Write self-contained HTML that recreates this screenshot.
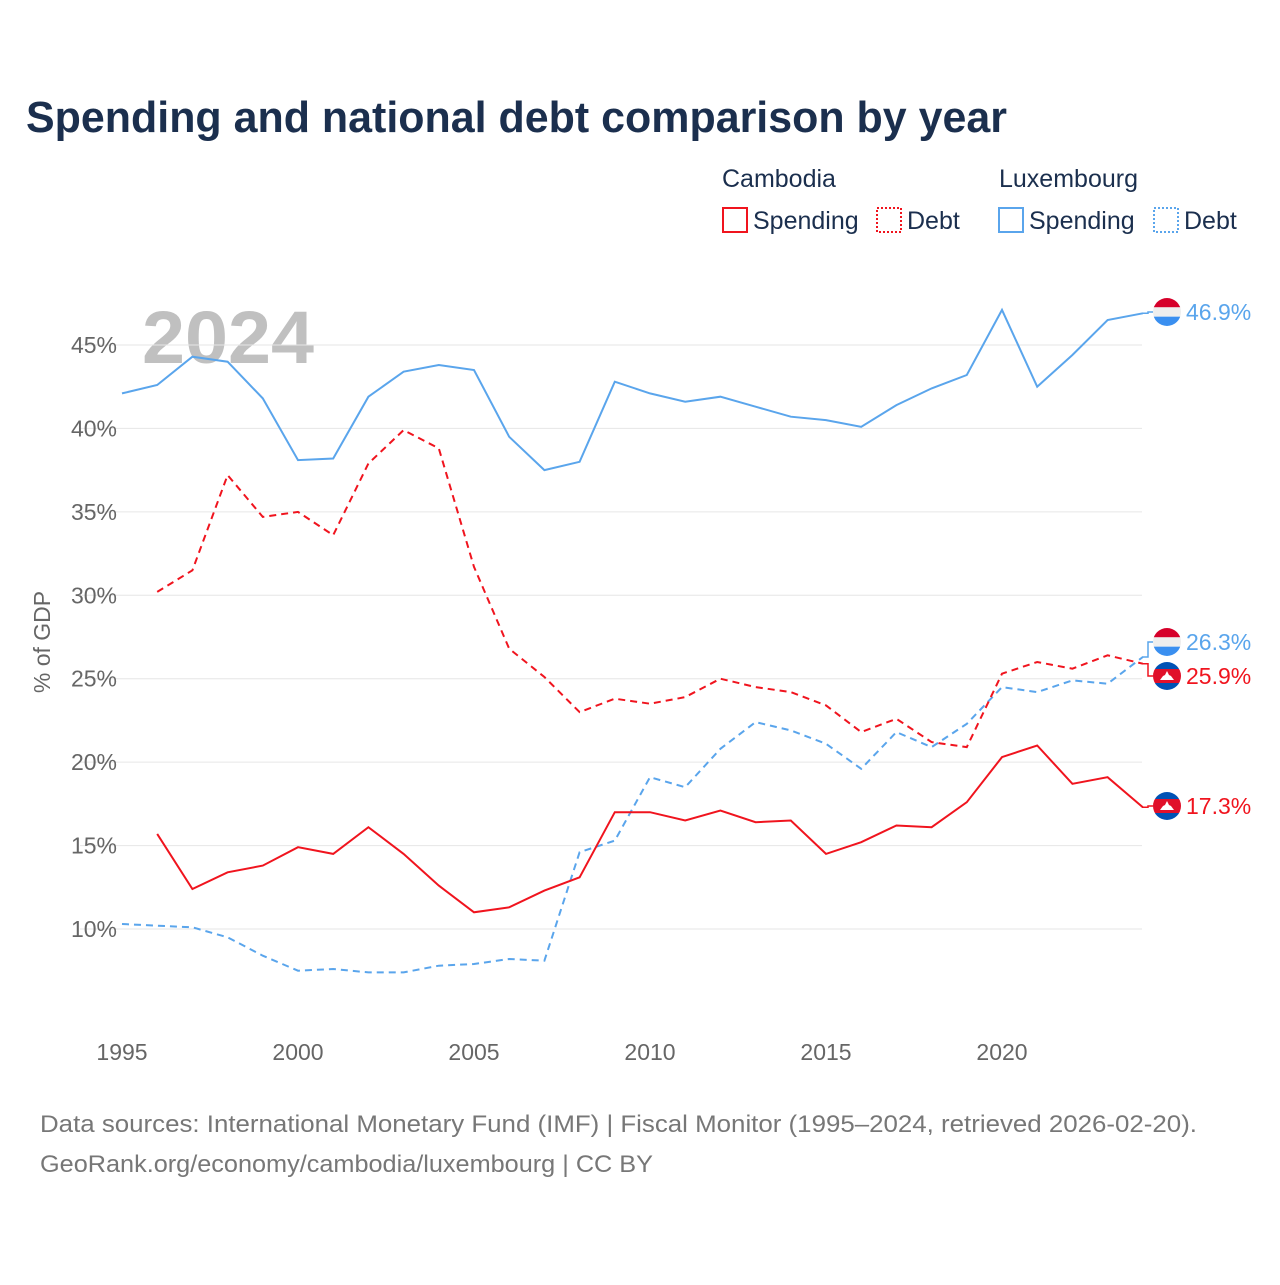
<!DOCTYPE html>
<html><head><meta charset="utf-8"><style>
html,body{margin:0;padding:0;background:#fff;}
body{width:1280px;height:1280px;overflow:hidden;font-family:"Liberation Sans",sans-serif;}
</style></head><body>
<svg id="chart" width="1280" height="1280" xmlns="http://www.w3.org/2000/svg" font-family="Liberation Sans, sans-serif">
<text x="26" y="132" font-size="44" font-weight="bold" fill="#1b2f4e" textLength="981" lengthAdjust="spacingAndGlyphs">Spending and national debt comparison by year</text>
<g font-size="25" fill="#1b2f4e">
<text x="722" y="187">Cambodia</text>
<text x="999" y="187">Luxembourg</text>
<g><rect x="723" y="208" width="24" height="24" fill="none" stroke="#f0141e" stroke-width="2"/><text x="753" y="229">Spending</text></g>
<g><rect x="877" y="208" width="24" height="24" fill="none" stroke="#f0141e" stroke-width="2" stroke-dasharray="2,2"/><text x="907" y="229">Debt</text></g>
<g><rect x="999" y="208" width="24" height="24" fill="none" stroke="#5aa5ec" stroke-width="2"/><text x="1029" y="229">Spending</text></g>
<g><rect x="1154" y="208" width="24" height="24" fill="none" stroke="#5aa5ec" stroke-width="2" stroke-dasharray="2,2"/><text x="1184" y="229">Debt</text></g>
</g>
<text x="142" y="363" font-size="74" font-weight="bold" fill="#c0c0c0" textLength="172" lengthAdjust="spacingAndGlyphs">2024</text>
<g id="grid"></g><g id="axes"></g><g id="series"></g><g id="ends"></g>
<text transform="translate(50,642) rotate(-90)" text-anchor="middle" font-size="23" fill="#666">% of GDP</text>
<text x="40" y="1132" font-size="24" fill="#777" textLength="1157" lengthAdjust="spacingAndGlyphs">Data sources: International Monetary Fund (IMF) | Fiscal Monitor (1995–2024, retrieved 2026-02-20).</text>
<text x="40" y="1172" font-size="24" fill="#777" textLength="613" lengthAdjust="spacingAndGlyphs">GeoRank.org/economy/cambodia/luxembourg | CC BY</text>
</svg>
<script>
const years=[1995,1996,1997,1998,1999,2000,2001,2002,2003,2004,2005,2006,2007,2008,2009,2010,2011,2012,2013,2014,2015,2016,2017,2018,2019,2020,2021,2022,2023,2024];
const luxSpending=[42.1,42.6,44.3,44.0,41.8,38.1,38.2,41.9,43.4,43.8,43.5,39.5,37.5,38.0,42.8,42.1,41.6,41.9,41.3,40.7,40.5,40.1,41.4,42.4,43.2,47.1,42.5,44.4,46.5,46.9];
const luxDebt=[10.3,10.2,10.1,9.5,8.4,7.5,7.6,7.4,7.4,7.8,7.9,8.2,8.1,14.6,15.3,19.1,18.5,20.8,22.4,21.9,21.1,19.6,21.8,20.9,22.3,24.5,24.2,24.9,24.7,26.3];
const khmSpending=[null,15.7,12.4,13.4,13.8,14.9,14.5,16.1,14.5,12.6,11.0,11.3,12.3,13.1,17.0,17.0,16.5,17.1,16.4,16.5,14.5,15.2,16.2,16.1,17.6,20.3,21.0,18.7,19.1,17.3];
const khmDebt=[null,30.2,31.5,37.2,34.7,35.0,33.6,37.9,39.9,38.8,31.7,26.8,25.1,23.0,23.8,23.5,23.9,25.0,24.5,24.2,23.4,21.8,22.6,21.2,20.9,25.3,26.0,25.6,26.4,25.9];
const yTicks=[10,15,20,25,30,35,40,45];
const xTicks=[1995,2000,2005,2010,2015,2020];
const NS="http://www.w3.org/2000/svg";
const X=y=>122+(y-1995)*35.2;
const Y=v=>929-(v-10)*16.686;
function el(t,a,p){const e=document.createElementNS(NS,t);for(const k in a)e.setAttribute(k,a[k]);document.getElementById(p).appendChild(e);return e;}
yTicks.forEach(t=>{
 const l=el('line',{x1:80,x2:1142,y1:Y(t),y2:Y(t),stroke:'#e6e6e6','stroke-width':1},'grid');
 
 
 const tx=el('text',{x:117,y:Y(t)+8,'text-anchor':'end','font-size':23,fill:'#666'},'axes');
 tx.textContent=t+'%';
 
 
});
xTicks.forEach(t=>{
 const tx=el('text',{x:X(t),y:1060,'text-anchor':'middle','font-size':23,fill:'#666'},'axes');
 tx.textContent=t;
 
 
});
function line(data,color,dash,name){
 let d='';data.forEach((v,i)=>{if(v==null)return;d+=(d?'L':'M')+X(years[i]).toFixed(1)+','+Y(v).toFixed(1);});
 const p=el('path',{d:d,fill:'none',stroke:color,'stroke-width':2,'stroke-dasharray':dash||'none'},'series');
 
 
}
line(luxSpending,'#5aa5ec',null,'luxembourg-spending-line');
line(luxDebt,'#5aa5ec','7,5','luxembourg-debt-line');
line(khmDebt,'#f0141e','7,5','cambodia-debt-line');
line(khmSpending,'#f0141e',null,'cambodia-spending-line');
function flag(cy,lux,name,val,color){
 const g=el('g',{},'ends');
 
 
 const y0=Y(val);
 const conn=document.createElementNS(NS,'path');
 conn.setAttribute('d','M1142,'+y0.toFixed(1)+'H1148V'+cy+'H1153');conn.setAttribute('fill','none');conn.setAttribute('stroke',color);conn.setAttribute('stroke-width',1.5);g.appendChild(conn);
 const cp=document.createElementNS(NS,'clipPath');cp.setAttribute('id','c'+name);
 const cc=document.createElementNS(NS,'circle');cc.setAttribute('cx',1167);cc.setAttribute('cy',cy);cc.setAttribute('r',14);cp.appendChild(cc);g.appendChild(cp);
 const cols=lux?['#d6002a','#eeeeee','#3a8ff0']:['#0052b4','#e0102a','#0052b4'];
 const hs=lux?[9.33,9.33,9.34]:[7,14,7];let yy=cy-14;
 cols.forEach((c,i)=>{const r=document.createElementNS(NS,'rect');r.setAttribute('x',1153);r.setAttribute('y',yy);r.setAttribute('width',28);r.setAttribute('height',hs[i]);r.setAttribute('fill',c);r.setAttribute('clip-path','url(#c'+name+')');g.appendChild(r);yy+=hs[i];});
 if(!lux){const t=document.createElementNS(NS,'path');t.setAttribute('d',`M1160,${cy+4}L1163,${cy}L1165,${cy-1}L1167,${cy-5}L1169,${cy-1}L1171,${cy}L1174,${cy+4}Z`);t.setAttribute('fill','#fff');g.appendChild(t);}
 const tx=document.createElementNS(NS,'text');tx.setAttribute('x',1186);tx.setAttribute('y',cy+8);tx.setAttribute('font-size',23);tx.setAttribute('fill',color);tx.textContent=val.toFixed(1)+'%';g.appendChild(tx);
}
const n=years.length-1;
flag(312,true,'end-label-luxembourg-spending',luxSpending[n],'#5aa5ec');
flag(642,true,'end-label-luxembourg-debt',luxDebt[n],'#5aa5ec');
flag(676,false,'end-label-cambodia-debt',khmDebt[n],'#f0141e');
flag(806,false,'end-label-cambodia-spending',khmSpending[n],'#f0141e');
</script>
</body></html>
